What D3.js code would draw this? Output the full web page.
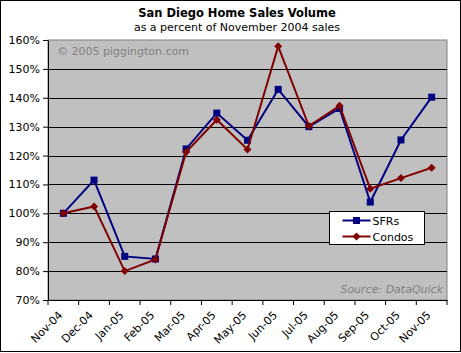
<!DOCTYPE html>
<html>
<head>
<meta charset="utf-8">
<script src="https://cdn.jsdelivr.net/npm/d3@7"></script>
<style>
  body { margin: 0; background: #fff; }
  text { font-family: Verdana, "DejaVu Sans", sans-serif; }
</style>
</head>
<body>
<div id="chart"></div>
<script>
const months = ["Nov-04","Dec-04","Jan-05","Feb-05","Mar-05","Apr-05","May-05","Jun-05","Jul-05","Aug-05","Sep-05","Oct-05","Nov-05"];
const sfrs = [100, 111.5, 85.1, 84.2, 122.3, 134.7, 125.3, 142.9, 130, 136.3, 103.9, 125.4, 140.2];
const condos = [100, 102.4, 80, 84, 121.2, 132.4, 122.1, 157.8, 130.2, 137.2, 108.5, 112.2, 115.8];
const yTicks = [70, 80, 90, 100, 110, 120, 130, 140, 150, 160];

const width = 461, height = 353;
const margin = { top: 40, right: 14, bottom: 53, left: 48 };
const innerW = width - margin.left - margin.right;
const innerH = height - margin.top - margin.bottom;

const svg = d3.select('#chart').append('svg')
	.attr('width', width)
	.attr('height', height);

// outer frame
svg.append('rect')
	.attr('x', 0.5).attr('y', 0.5)
	.attr('width', width - 1).attr('height', height - 2)
	.attr('fill', '#fff').attr('stroke', '#000');

// titles
svg.append('text')
	.attr('x', 237).attr('y', 17)
	.attr('text-anchor', 'middle')
	.attr('font-size', 11.5).attr('font-weight', 'bold')
	.text('San Diego Home Sales Volume');
svg.append('text')
	.attr('x', 237).attr('y', 31)
	.attr('text-anchor', 'middle')
	.attr('font-size', 11)
	.text('as a percent of November 2004 sales');

const g = svg.append('g')
	.attr('transform', `translate(${margin.left},${margin.top})`);

const xScale = d3.scaleBand().domain(months).range([0, innerW]);
const yScale = d3.scaleLinear().domain([70, 160]).range([innerH, 0]);
const xPos = d => xScale(d) + xScale.bandwidth() / 2;

// plot area
g.append('rect')
	.attr('width', innerW).attr('height', innerH)
	.attr('fill', '#c0c0c0').attr('stroke', '#808080');

// gridlines
g.selectAll('.grid')
	.data(yTicks.filter(t => t > 70 && t < 160))
	.join('line')
	.attr('class', 'grid')
	.attr('x1', 0).attr('x2', innerW)
	.attr('y1', d => Math.round(yScale(d)) + 0.5)
	.attr('y2', d => Math.round(yScale(d)) + 0.5)
	.attr('stroke', '#000');

// watermark + source
g.append('text')
	.attr('x', 9).attr('y', 15)
	.attr('font-size', 11).attr('fill', '#808080')
	.text('© 2005 piggington.com');
g.append('text')
	.attr('x', innerW - 4).attr('y', innerH - 7)
	.attr('text-anchor', 'end')
	.attr('font-size', 11).attr('font-style', 'italic').attr('fill', '#808080')
	.text('Source: DataQuick');

// y axis
const yAxis = g.append('g')
	.call(d3.axisLeft(yScale).tickValues(yTicks).tickFormat(d => d + '%').tickSize(5).tickSizeOuter(0));
yAxis.select('.domain').attr('stroke', '#000');
yAxis.selectAll('text').attr('font-size', 11).attr('fill', '#000').attr('x', -8);

// x axis with ticks between categories
const xAxis = g.append('g')
	.attr('transform', `translate(0,${innerH})`)
	.call(d3.axisBottom(xScale).tickSize(0).tickSizeOuter(0));
xAxis.select('.domain').attr('stroke', '#000');
xAxis.selectAll('text')
	.attr('font-size', 11).attr('fill', '#000')
	.attr('text-anchor', 'end')
	.attr('y', 0)
	.attr('dy', '0.35em')
	.attr('transform', 'translate(-3,13) rotate(-45)');
xAxis.selectAll('.btick')
	.data(months.map(m => xScale(m)).concat([innerW]))
	.join('line')
	.attr('class', 'btick')
	.attr('x1', d => d).attr('x2', d => d)
	.attr('y1', 0).attr('y2', 5)
	.attr('stroke', '#000');

// series
const line = d3.line()
	.x((d, i) => xPos(months[i]))
	.y(d => yScale(d));

const series = [
	{ name: 'SFRs', values: sfrs, color: '#000080', marker: 'square' },
	{ name: 'Condos', values: condos, color: '#800000', marker: 'diamond' }
];

function drawMarker(sel, type, color) {
	if (type === 'square') {
		sel.append('rect')
			.attr('x', -3.5).attr('y', -3.5)
			.attr('width', 7).attr('height', 7)
			.attr('fill', color);
	} else {
		sel.append('path')
			.attr('d', 'M0,-4L4,0L0,4L-4,0Z')
			.attr('fill', color);
	}
}

series.forEach(s => {
	g.append('path')
		.datum(s.values)
		.attr('d', line)
		.attr('fill', 'none')
		.attr('stroke', s.color)
		.attr('stroke-width', 2);
	g.selectAll(null)
		.data(s.values)
		.join('g')
		.attr('transform', (d, i) => `translate(${xPos(months[i])},${yScale(d)})`)
		.each(function () { drawMarker(d3.select(this), s.marker, s.color); });
});

// legend
const legend = svg.append('g').attr('transform', 'translate(329.5,211.5)');
legend.append('rect')
	.attr('width', 95).attr('height', 33)
	.attr('fill', '#fff').attr('stroke', '#000');
series.forEach((s, i) => {
	const row = legend.append('g').attr('transform', `translate(0,${9 + i * 16})`);
	row.append('line')
		.attr('x1', 13).attr('x2', 41)
		.attr('stroke', s.color).attr('stroke-width', 2);
	const m = row.append('g').attr('transform', 'translate(27,0)');
	drawMarker(m, s.marker, s.color);
	row.append('text')
		.attr('x', 43).attr('y', 4)
		.attr('font-size', 11).attr('fill', '#000')
		.text(s.name);
});
</script>
</body>
</html>
